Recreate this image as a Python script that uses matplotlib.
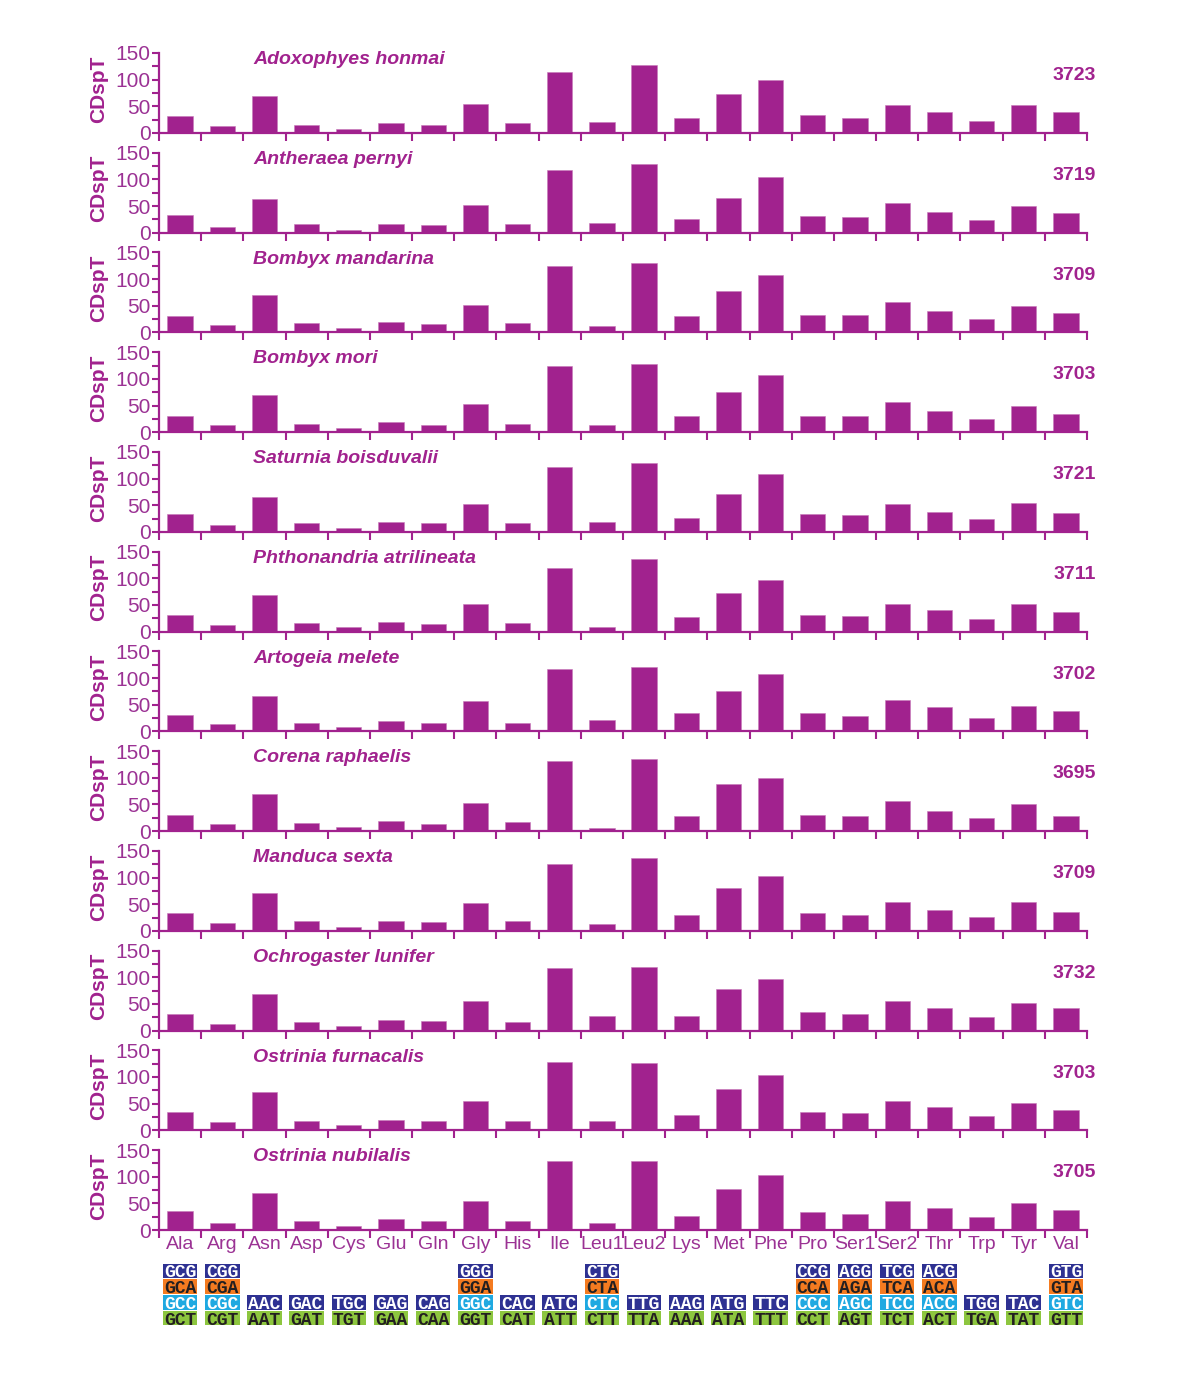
import numpy as np
import matplotlib
matplotlib.use('Agg')
import matplotlib.pyplot as plt
from matplotlib.ticker import FixedLocator, MultipleLocator

plt.rcParams['font.family'] = ['Liberation Sans', 'DejaVu Sans']

# amino acids on the x axis
amino = ['Ala', 'Arg', 'Asn', 'Asp', 'Cys', 'Glu', 'Gln', 'Gly', 'His', 'Ile', 'Leu1',
         'Leu2', 'Lys', 'Met', 'Phe', 'Pro', 'Ser1', 'Ser2', 'Thr', 'Trp', 'Tyr', 'Val']

species = ['Adoxophyes honmai', 'Antheraea pernyi', 'Bombyx mandarina', 'Bombyx mori',
           'Saturnia boisduvalii', 'Phthonandria atrilineata', 'Artogeia melete',
           'Corena raphaelis', 'Manduca sexta', 'Ochrogaster lunifer',
           'Ostrinia furnacalis', 'Ostrinia nubilalis']
totals = [3723, 3719, 3709, 3703, 3721, 3711, 3702, 3695, 3709, 3732, 3703, 3705]

# CDspT values
adoxophyes = [32, 13, 69, 15, 8, 18, 15, 54, 18, 115, 20, 127, 29, 73, 100, 33, 29, 53, 40, 23, 52, 40]
antheraea = [33, 11, 63, 16, 6, 17, 14, 52, 16, 118, 19, 128, 26, 66, 105, 32, 30, 55, 38, 23, 50, 37]
b_mandarina = [30, 14, 71, 18, 9, 20, 16, 52, 18, 124, 13, 130, 31, 77, 107, 33, 33, 57, 40, 25, 50, 37]
b_mori = [30, 13, 69, 16, 8, 19, 14, 52, 16, 125, 13, 128, 30, 75, 107, 31, 31, 57, 39, 24, 50, 35]
saturnia = [33, 13, 66, 16, 7, 19, 16, 52, 17, 122, 18, 130, 27, 71, 109, 33, 31, 52, 38, 24, 54, 35]
phthonandria = [31, 12, 69, 16, 8, 18, 14, 52, 16, 120, 9, 137, 28, 73, 97, 31, 29, 52, 40, 24, 52, 37]
artogeia = [31, 14, 66, 16, 8, 20, 16, 57, 16, 117, 21, 120, 35, 75, 108, 35, 29, 59, 45, 25, 48, 38]
corena = [30, 13, 70, 16, 8, 19, 14, 52, 17, 131, 6, 136, 28, 88, 100, 30, 29, 57, 38, 25, 50, 28]
manduca = [33, 14, 71, 18, 8, 19, 17, 53, 19, 125, 12, 136, 29, 80, 103, 33, 30, 55, 40, 26, 54, 36]
ochrogaster = [32, 13, 68, 16, 8, 20, 18, 55, 16, 117, 28, 120, 28, 78, 97, 34, 32, 55, 43, 26, 52, 43]
o_furnacalis = [34, 15, 71, 17, 10, 20, 18, 55, 18, 128, 17, 127, 29, 78, 103, 34, 33, 55, 44, 26, 51, 38]
o_nubilalis = [35, 13, 70, 16, 7, 20, 16, 55, 16, 130, 13, 130, 26, 76, 103, 33, 30, 55, 42, 25, 50, 37]
values = [adoxophyes, antheraea, b_mandarina, b_mori, saturnia, phthonandria,
          artogeia, corena, manduca, ochrogaster, o_furnacalis, o_nubilalis]

# synonymous codons, bottom row first
codons = [['GCT', 'GCC', 'GCA', 'GCG'], ['CGT', 'CGC', 'CGA', 'CGG'], ['AAT', 'AAC'],
          ['GAT', 'GAC'], ['TGT', 'TGC'], ['GAA', 'GAG'], ['CAA', 'CAG'],
          ['GGT', 'GGC', 'GGA', 'GGG'], ['CAT', 'CAC'], ['ATT', 'ATC'],
          ['CTT', 'CTC', 'CTA', 'CTG'], ['TTA', 'TTG'], ['AAA', 'AAG'], ['ATA', 'ATG'],
          ['TTT', 'TTC'], ['CCT', 'CCC', 'CCA', 'CCG'], ['AGT', 'AGC', 'AGA', 'AGG'],
          ['TCT', 'TCC', 'TCA', 'TCG'], ['ACT', 'ACC', 'ACA', 'ACG'], ['TGA', 'TGG'],
          ['TAT', 'TAC'], ['GTT', 'GTC', 'GTA', 'GTG']]

purple = '#A1228E'
lab_col = '#9B3294'
green, cyan, orange, navy = '#8DC63F', '#1FA9E1', '#F47B20', '#2E3192'
dark = '#231F20'

W, H = 1200, 1387
fig = plt.figure(figsize=(W/100, H/100), dpi=100)
left = 159/W
width = 928/W
x = np.arange(len(amino)) + 0.5

for i in range(len(species)):
    bot = 133 + i*99.73
    ax = fig.add_axes([left, 1 - bot/H, width, 80/H])
    ax.bar(x, values[i], width=0.6, color=purple, edgecolor='#C77AB9', linewidth=0.4)
    ax.set_xlim(0, 22)
    ax.set_ylim(0, 150)
    ax.patch.set_alpha(0)
    for s in ['top', 'right']:
        ax.spines[s].set_visible(False)
    for s in ['left', 'bottom']:
        ax.spines[s].set_color(purple)
        ax.spines[s].set_linewidth(1.6)
    ax.yaxis.set_major_locator(FixedLocator([0, 50, 100, 150]))
    ax.yaxis.set_minor_locator(MultipleLocator(25))
    ax.tick_params(axis='y', which='both', direction='out', length=5, width=1.5,
                   color=purple, labelcolor=lab_col, labelsize=15, pad=1)
    ax.xaxis.set_minor_locator(FixedLocator(np.arange(0, 23)))
    ax.xaxis.set_major_locator(FixedLocator(x))
    ax.tick_params(axis='x', which='minor', direction='out', length=6, width=1.5, color=purple)
    ax.tick_params(axis='x', which='major', length=0, labelcolor=lab_col, labelsize=14, pad=4)
    if i == len(species) - 1:
        ax.set_xticklabels(amino)
    else:
        ax.set_xticklabels([])
    ax.text(2.23, 129, species[i], fontsize=14, fontweight='bold', fontstyle='italic',
            color=purple, va='baseline', ha='left')
    ax.text(22.2, 99, str(totals[i]), fontsize=14, fontweight='bold', color=purple,
            va='baseline', ha='right', clip_on=False)
    ax.text(-0.065, 0.55, 'CDspT', transform=ax.transAxes, rotation=90, fontsize=15,
            fontweight='bold', color=purple, ha='center', va='center')

# codon table below the last panel
cax = fig.add_axes([left, 1 - 1326/H, width, 63/H])
cax.set_xlim(0, 22)
cax.set_ylim(0, 4)
cax.axis('off')
for j, cods in enumerate(codons):
    if len(cods) == 4:
        cols = [green, cyan, orange, navy]
    else:
        cols = [green, navy]
    for r, c in enumerate(cods):
        cax.bar(x[j], 0.93, width=0.82, bottom=r + 0.035, color=cols[r], linewidth=0)
        tc = 'white' if cols[r] in (navy, cyan) else dark
        cax.text(x[j], r + 0.5, c, ha='center', va='center_baseline', fontsize=13,
                 fontweight='bold', family='Liberation Mono', color=tc)

fig.savefig('out.png', dpi=100)
